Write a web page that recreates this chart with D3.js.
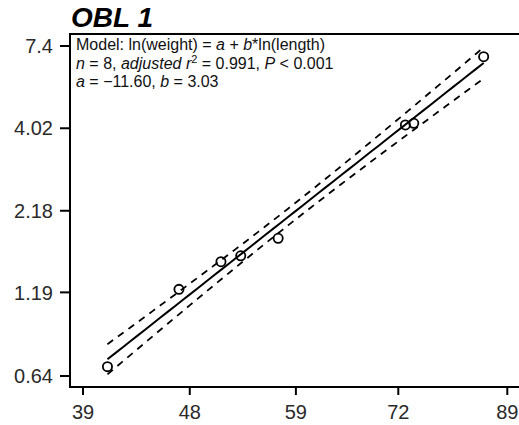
<!DOCTYPE html>
<html>
<head>
<meta charset="utf-8">
<script src="https://cdn.jsdelivr.net/npm/d3@7"></script>
<style>
  body { margin: 0; background: #fff; }
  text { font-family: "Liberation Sans", Arial, sans-serif; }
</style>
</head>
<body>
<svg id="chart"></svg>
<script>
// Points (length vs weight, log-log)
const lengths = [40.9, 47.0, 51.0, 53.0, 57.0, 73.0, 74.2, 85.0];
const weights = [0.686, 1.217, 1.494, 1.561, 1.777, 4.119, 4.171, 6.836];

const xTicks = [39, 48, 59, 72, 89];
const yTicks = [0.64, 1.19, 2.18, 4.02, 7.4];
const yTickLabels = ['0.64', '1.19', '2.18', '4.02', '7.4'];

const title = 'OBL 1';

const width = 519, height = 425;

const svg = d3.select('#chart')
    .attr('width', width)
    .attr('height', height);

// Log scales, the ticks sit at the label values
let x = d3.scaleLog().domain([39, 89]).range([83, 507.3]);
let y = d3.scaleLog().domain([0.64, 7.4]).range([376, 46]);

// Plot frame: top line, left axis, bottom axis
svg.append('path')
    .attr('d', 'M519,34H70V387H519')
    .attr('fill', 'none')
    .attr('stroke', '#000')
    .attr('stroke-width', 2);

// Y axis ticks + labels
let yg = svg.append('g');
yg.selectAll('line').data(yTicks).join('line')
    .attr('x1', 60).attr('x2', 70)
    .attr('y1', d => y(d)).attr('y2', d => y(d))
    .attr('stroke', '#000').attr('stroke-width', 2);
yg.selectAll('text').data(yTicks).join('text')
    .attr('x', 53)
    .attr('y', d => y(d))
    .attr('dy', '0.36em')
    .attr('text-anchor', 'end')
    .attr('font-size', 20)
    .attr('fill', '#2a2a2a')
    .text((d, i) => yTickLabels[i]);

// X axis ticks + labels
let xg = svg.append('g');
xg.selectAll('line').data(xTicks).join('line')
    .attr('x1', d => x(d)).attr('x2', d => x(d))
    .attr('y1', 387).attr('y2', 395)
    .attr('stroke', '#000').attr('stroke-width', 2);
xg.selectAll('text').data(xTicks).join('text')
    .attr('x', d => x(d))
    .attr('y', 419)
    .attr('text-anchor', 'middle')
    .attr('font-size', 20)
    .attr('fill', '#2a2a2a')
    .text(d => d);

// Title
svg.append('text')
    .attr('x', 71).attr('y', 27)
    .attr('font-size', 28)
    .attr('font-weight', 'bold')
    .attr('font-style', 'italic')
    .text(title);

// Least squares on ln scale, with 95% confidence band for the mean
let pts = lengths.map((l, i) => ({ lx: Math.log(l), ly: Math.log(weights[i]) }));
let n = pts.length;
let mx = d3.mean(pts, d => d.lx), my = d3.mean(pts, d => d.ly);
let sxx = d3.sum(pts, d => (d.lx - mx) ** 2);
let sxy = d3.sum(pts, d => (d.lx - mx) * (d.ly - my));
let b = sxy / sxx;
let a = my - b * mx;
let sse = d3.sum(pts, d => (d.ly - a - b * d.lx) ** 2);
let s = Math.sqrt(sse / (n - 2));
let t = 2.447; // t(0.975, 6)

let xmin = d3.min(lengths), xmax = d3.max(lengths);
let grid = d3.range(0, 51).map(i => Math.exp(Math.log(xmin) + i / 50 * (Math.log(xmax) - Math.log(xmin))));
let band = grid.map(v => {
    let lx = Math.log(v);
    let fit = a + b * lx;
    let se = s * Math.sqrt(1 / n + (lx - mx) ** 2 / sxx);
    return { x: v, fit: Math.exp(fit), lo: Math.exp(fit - t * se), hi: Math.exp(fit + t * se) };
});

let line = key => d3.line().x(d => x(d.x)).y(d => y(d[key]));

svg.append('path').datum(band)
    .attr('fill', 'none').attr('stroke', '#000').attr('stroke-width', 2)
    .attr('d', line('fit'));

['lo', 'hi'].forEach(k => {
    svg.append('path').datum(band)
        .attr('fill', 'none').attr('stroke', '#000').attr('stroke-width', 1.8)
        .attr('stroke-dasharray', '7,6')
        .attr('d', line(k));
});

// Data points
svg.append('g').selectAll('circle')
    .data(lengths.map((l, i) => [l, weights[i]]))
    .join('circle')
    .attr('cx', d => x(d[0]))
    .attr('cy', d => y(d[1]))
    .attr('r', 4.6)
    .attr('fill', 'none')
    .attr('stroke', '#000')
    .attr('stroke-width', 1.8);

// Model annotation
let ann = svg.append('g').attr('font-size', 16).attr('fill', '#111');
let l1 = ann.append('text').attr('x', 76).attr('y', 50);
l1.append('tspan').text('Model: ln(weight) = ');
l1.append('tspan').attr('font-style', 'italic').text('a');
l1.append('tspan').text(' + ');
l1.append('tspan').attr('font-style', 'italic').text('b');
l1.append('tspan').text('*ln(length)');

let l2 = ann.append('text').attr('x', 76).attr('y', 69);
l2.append('tspan').attr('font-style', 'italic').text('n');
l2.append('tspan').text(' =  8, ');
l2.append('tspan').attr('font-style', 'italic').text('adjusted r');
l2.append('tspan').attr('font-size', 11).attr('dy', -6).text('2');
l2.append('tspan').attr('dy', 6).text(' = 0.991, ');
l2.append('tspan').attr('font-style', 'italic').text('P');
l2.append('tspan').text(' < 0.001');

let l3 = ann.append('text').attr('x', 76).attr('y', 87);
l3.append('tspan').attr('font-style', 'italic').text('a');
l3.append('tspan').text(' =  \u221211.60, ');
l3.append('tspan').attr('font-style', 'italic').text('b');
l3.append('tspan').text(' = 3.03');
</script>
</body>
</html>
